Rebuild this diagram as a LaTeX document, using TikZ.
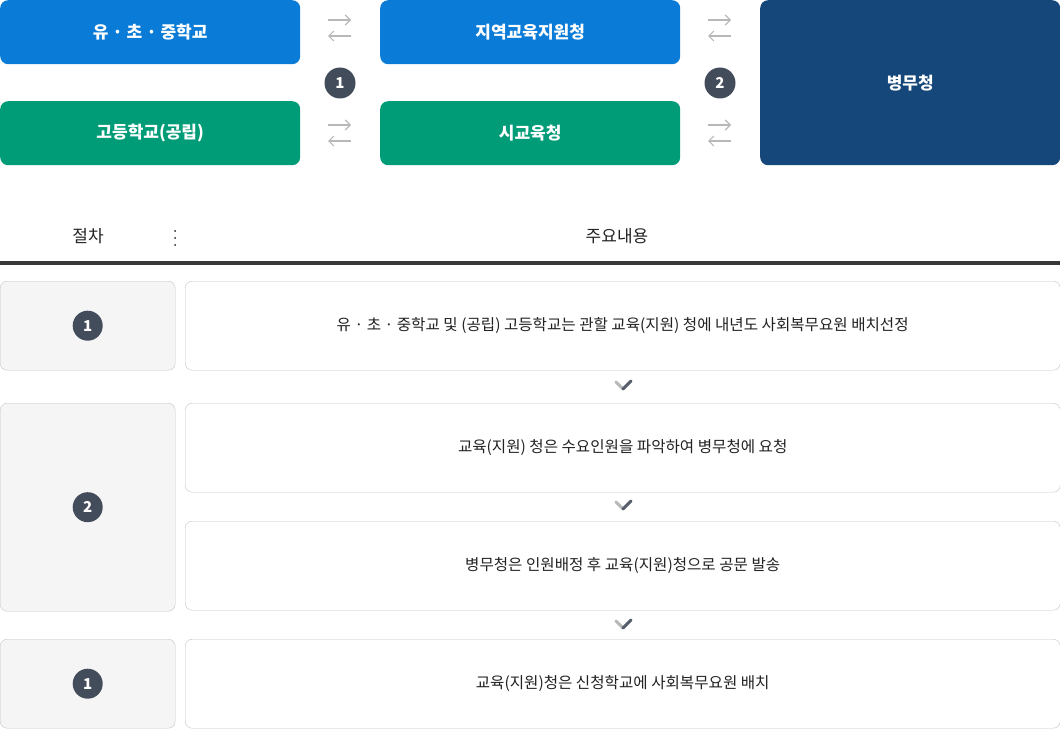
\documentclass[tikz,border=0pt]{standalone}
\usepackage{fontspec}
\setmainfont{Noto Sans CJK KR}
\usetikzlibrary{arrows.meta}
\definecolor{schoolblue}{HTML}{0A7CD8}
\definecolor{schoolgreen}{HTML}{009B77}
\definecolor{mmanavy}{HTML}{15477A}
\definecolor{badgegray}{HTML}{434C5A}
\definecolor{flowgray}{HTML}{B8B8B8}
\definecolor{cellgray}{HTML}{F5F5F5}
\definecolor{cellline}{HTML}{C4C4C4}
\definecolor{textgray}{HTML}{222222}
\tikzset{
  orgbox/.style={rounded corners=8pt, minimum width=300pt, minimum height=64pt, inner sep=0pt,
    text=white, font=\fontsize{17}{20}\selectfont\bfseries},
  badge/.style={circle, fill=badgegray, minimum size=31pt, inner sep=0pt,
    text=white, font=\fontsize{15}{17}\selectfont\bfseries},
  stepcell/.style={draw=cellline, fill=cellgray, rounded corners=7pt, minimum width=175pt, inner sep=0pt},
  textcell/.style={draw=cellline, fill=white, rounded corners=7pt, minimum width=875pt, minimum height=89pt,
    inner sep=0pt, text=textgray, font=\fontsize{15.6}{18}\selectfont},
  headtext/.style={text=textgray, font=\fontsize{17}{20}\selectfont},
  swap/.style={flowgray, line width=1.1pt, -{Straight Barb[length=5pt, width=10pt]}},
  chevl/.style={flowgray, line width=3pt, line cap=round},
  chevr/.style={badgegray!90, line width=3pt, line cap=round}
}
\begin{document}
\begin{tikzpicture}[x=1pt, y=-1pt]
\useasboundingbox (0,0) rectangle (1060,730);

% top row of offices
\node[orgbox, fill=schoolblue, anchor=north west] (primary) at (0,0) {유 · 초 · 중학교};
\node[orgbox, fill=schoolgreen, anchor=north west] (high) at (0,101) {고등학교(공립)};
\node[orgbox, fill=schoolblue, anchor=north west] (district) at (380,0) {지역교육지원청};
\node[orgbox, fill=schoolgreen, anchor=north west] (cityedu) at (380,101) {시교육청};
\node[orgbox, fill=mmanavy, anchor=north west, minimum height=165pt] (mma) at (760,0) {병무청};

% exchange arrows
\foreach \xa in {328,708}{
  \foreach \ya in {20,125}{
    \coordinate (fa) at (\xa,\ya);
    \coordinate (fb) at (\xa+23,\ya);
    \coordinate (ba) at (\xa+23,\ya+16);
    \coordinate (bb) at (\xa,\ya+16);
    \draw[swap] (fa) -- (fb);
    \draw[swap] (ba) -- (bb);
  }
}
\node[badge] (stepone) at (340,83) {1};
\node[badge] (steptwo) at (720,83) {2};

% table header
\node[headtext] (hstep) at (88,236) {절차};
\node[headtext] (hcontent) at (617,236) {주요내용};
\foreach \yd in {231,238,245}
  \fill[textgray] (175,\yd) circle (1pt);
\draw[textgray!90, line width=3.5pt] (0,263) -- (1060,263);

% step cells
\node[stepcell, anchor=north west, minimum height=89pt] (cellone) at (0,281) {};
\node[stepcell, anchor=north west, minimum height=208pt] (celltwo) at (0,403) {};
\node[stepcell, anchor=north west, minimum height=89pt] (cellthree) at (0,639) {};
\node[badge, minimum size=30pt] at (cellone.center) {1};
\node[badge, minimum size=30pt] at (celltwo.center) {2};
\node[badge, minimum size=30pt] at (cellthree.center) {1};

% content cells
\node[textcell, anchor=north west] (select) at (185,281) {유 · 초 · 중학교 및 (공립) 고등학교는 관할 교육(지원) 청에 내년도 사회복무요원 배치선정};
\node[textcell, anchor=north west] (request) at (185,403) {교육(지원) 청은 수요인원을 파악하여 병무청에 요청};
\node[textcell, anchor=north west] (assign) at (185,521) {병무청은 인원배정 후 교육(지원)청으로 공문 발송};
\node[textcell, anchor=north west] (place) at (185,639) {교육(지원)청은 신청학교에 사회복무요원 배치};

% chevrons between content cells
\foreach \yc in {386,506,625}{
  \draw[chevl] (616,\yc-4) -- (623,\yc+3);
  \draw[chevr] (623,\yc+3) -- (631,\yc-5);
}
\end{tikzpicture}
\end{document}
